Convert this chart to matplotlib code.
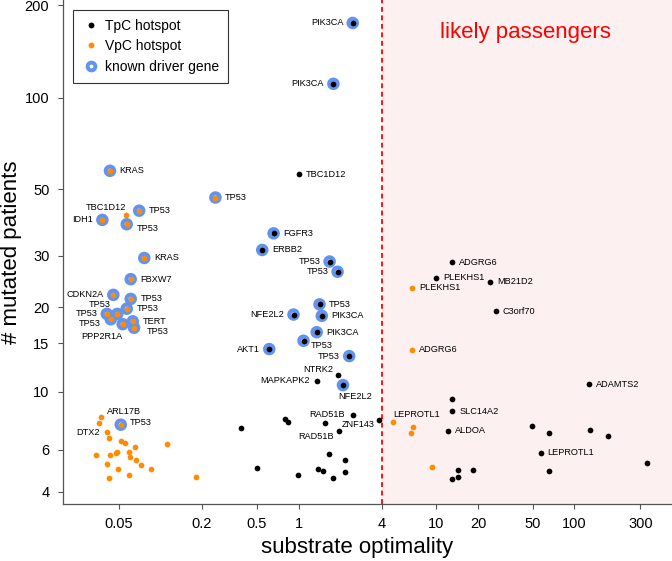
import numpy as np
import matplotlib
matplotlib.use("Agg")
import matplotlib.pyplot as plt
from matplotlib.lines import Line2D

plt.rcParams["font.family"] = ["Liberation Sans", "DejaVu Sans"]

# TpC hotspots (black): gene, substrate optimality, # mutated patients, known driver
tpc_gene = ["PIK3CA", "PIK3CA", "FGFR3", "ERBB2", "TP53", "TP53", "TP53", "NFE2L2",
            "PIK3CA", "PIK3CA", "TP53", "AKT1", "TP53", "NFE2L2",
            "TBC1D12", "NTRK2", "MAPKAPK2", "RAD51B", "ZNF143", "RAD51B",
            "ADGRG6", "PLEKHS1", "MB21D2", "C3orf70", "ADAMTS2", "SLC14A2", "ALDOA", "LEPROTL1"]
tpc_x = [2.47, 1.79, 0.66, 0.546, 1.68, 1.92, 1.42, 0.92,
         1.475, 1.355, 1.087, 0.614, 2.33, 2.10,
         1.0, 1.93, 1.355, 2.47, 3.85, 1.97,
         13.0, 10.0, 24.5, 27.0, 127, 13.0, 12.1, 56.9]
tpc_y = [175, 111, 35.7, 31.4, 28.7, 26.5, 20.5, 18.9,
         18.7, 16.4, 15.3, 14.3, 13.5, 10.6,
         56.1, 11.5, 11.0, 8.22, 7.87, 7.09,
         28.5, 25.3, 24.5, 19.4, 10.7, 8.47, 7.12, 5.84]
tpc_driver = [True] * 14 + [False] * 14

# unlabelled TpC hotspots
tpc_other_x = [0.383, 0.80, 0.844, 1.56, 1.655, 2.16, 0.498, 1.39, 1.50, 2.16, 0.995, 1.78,
               13.0, 49.5, 65.7, 129, 175, 335, 14.2, 14.2, 13.0, 18.4, 65.7]
tpc_other_y = [7.29, 7.94, 7.73, 7.62, 5.77, 5.47, 5.07, 4.99, 4.89, 4.88, 4.74, 4.57,
               9.42, 7.46, 7.01, 7.19, 6.83, 5.32, 4.96, 4.64, 4.53, 4.96, 4.92]

# VpC hotspots (orange)
vpc_gene = ["KRAS", "TP53", "TP53", "IDH1", "TP53", "KRAS", "FBXW7", "CDKN2A", "TP53",
            "TP53", "TP53", "TP53", "TP53", "TERT", "PPP2R1A", "TP53", "TP53",
            "TBC1D12", "ARL17B", "DTX2", "PLEKHS1", "ADGRG6", "LEPROTL1"]
vpc_x = [0.043, 0.25, 0.070, 0.0379, 0.0569, 0.0763, 0.0608, 0.0455, 0.0608,
         0.0569, 0.0486, 0.0408, 0.0436, 0.0629, 0.0532, 0.0643, 0.0515,
         0.0559, 0.0369, 0.0412, 6.68, 6.68, 4.82]
vpc_y = [57.6, 47.0, 42.5, 39.6, 38.3, 29.5, 25.0, 22.1, 21.4,
         19.8, 19.0, 19.0, 18.2, 17.9, 17.5, 17.0, 7.53,
         41.1, 8.04, 7.05, 23.4, 14.2, 7.69]
vpc_driver = [True] * 17 + [False] * 6

vpc_other_x = [0.0360, 0.0426, 0.052, 0.0556, 0.0657, 0.112, 0.0341, 0.0431, 0.0476, 0.0486,
               0.0588, 0.0601, 0.0665, 0.0412, 0.0726, 0.0492, 0.0853, 0.0421, 0.0594, 0.180,
               9.28, 6.72, 6.50]
vpc_other_y = [7.67, 6.68, 6.49, 6.37, 6.17, 6.33, 5.70, 5.70, 5.81, 5.85,
               5.89, 5.62, 5.44, 5.25, 5.18, 5.00, 4.99, 4.60, 4.74, 4.62,
               5.12, 7.36, 7.01]

x_ticks = [0.05, 0.2, 0.5, 1, 4, 10, 20, 50, 100, 300]
x_tick_labels = ["0.05", "0.2", "0.5", "1", "4", "10", "20", "50", "100", "300"]
y_ticks = [4, 6, 10, 15, 20, 30, 50, 100, 200]
threshold = 4

# label placement: "r" right, "l" left, or (ha, dx, dy) in points
tpc_place = ["l", "l", "r", "r", "l", "l", "r", "l",
             "r", "r", ("left", 5.5, -3.4), "l", "l", ("left", -3.4, -8.1),
             "r", ("right", -3, 4), "l", "l", ("right", -3, -3.3), ("right", -3.8, -3.5),
             "r", "r", "r", "r", "r", "r", "r", "r"]
vpc_place = ["r", "r", "r", "l", ("left", 7, -3), "r", "r", "l", "r",
             "r", ("right", -5, 7), "l", ("right", -7, -3), "r", ("right", 0, -9),
             ("left", 9, -2.5), ("left", 6.7, 1.7),
             ("right", 0, 5.5), ("left", 4.3, 4), "l", "r", "r", ("left", 0, 5.3)]

BLUE = "#6393EE"
ORANGE = "#FF8C00"
GREY = "#555555"


def fwd(v):
    return np.log10(np.asarray(v) + 1.5)


def inv(v):
    return 10 ** np.asarray(v) - 1.5


def add_labels(ax, genes, xs, ys, drivers, places):
    for g, x, y, d, p in zip(genes, xs, ys, drivers, places):
        if p == "r":
            ha, dx, dy = "left", (7 if d else 5), 0
        elif p == "l":
            ha, dx, dy = "right", (-6.7 if d else -5.3), 0
        else:
            ha, dx, dy = p
        ax.annotate(g, (x, y), xytext=(dx, dy), textcoords="offset points",
                    ha=ha, va="center", fontsize=6.6, zorder=5)


def main():
    fig = plt.figure(figsize=(6.72, 5.61), dpi=100)
    ax = fig.add_axes([62.7 / 672, 57 / 561, 1 - 62.7 / 672, 504 / 561])

    ax.set_xscale("log")
    ax.set_yscale("function", functions=(fwd, inv))
    ax.set_xlim(0.01955, 509)
    ax.set_ylim(3.52, 207.7)

    ax.axvspan(threshold, 1e4, color="#FDF0F0", zorder=0, lw=0)
    ax.axvline(threshold, color="red", lw=1.3, ls=(0, (2.7, 2.0)), zorder=1)

    # known driver rings
    dx_ = [x for x, d in zip(tpc_x, tpc_driver) if d] + [x for x, d in zip(vpc_x, vpc_driver) if d]
    dy_ = [y for y, d in zip(tpc_y, tpc_driver) if d] + [y for y, d in zip(vpc_y, vpc_driver) if d]
    ax.scatter(dx_, dy_, s=36, facecolors="none", edgecolors=BLUE, linewidths=3.0, zorder=2)

    ax.scatter(tpc_x + tpc_other_x, tpc_y + tpc_other_y, s=17, color="black", lw=0, zorder=3)
    ax.scatter(vpc_x + vpc_other_x, vpc_y + vpc_other_y, s=17, color=ORANGE, lw=0, zorder=3)

    add_labels(ax, tpc_gene, tpc_x, tpc_y, tpc_driver, tpc_place)
    add_labels(ax, vpc_gene, vpc_x, vpc_y, vpc_driver, vpc_place)

    ax.text(0.76, 0.9365, "likely passengers", color="red", fontsize=16,
            ha="center", va="center", transform=ax.transAxes)

    ax.set_xticks(x_ticks)
    ax.set_xticklabels(x_tick_labels)
    ax.set_yticks(y_ticks)
    ax.set_yticklabels([str(t) for t in y_ticks])
    ax.xaxis.set_minor_locator(matplotlib.ticker.NullLocator())
    ax.yaxis.set_minor_locator(matplotlib.ticker.NullLocator())
    ax.tick_params(axis="both", length=3.6, width=0.8, color=GREY, labelsize=10.5)
    ax.tick_params(axis="x", pad=5.5)
    ax.tick_params(axis="y", pad=6)

    for side in ["top", "right"]:
        ax.spines[side].set_visible(False)
    for side in ["left", "bottom"]:
        ax.spines[side].set_color(GREY)
        ax.spines[side].set_linewidth(0.9)

    ax.set_xlabel("substrate optimality", fontsize=16)
    ax.set_ylabel("# mutated patients", fontsize=16)
    ax.xaxis.set_label_coords(0.483, -0.066)
    ax.yaxis.set_label_coords(-0.066, 0.5)

    handles = [
        Line2D([], [], ls="none", marker="o", ms=4.2, mfc="black", mec="none"),
        Line2D([], [], ls="none", marker="o", ms=4.2, mfc=ORANGE, mec="none"),
        Line2D([], [], ls="none", marker="o", ms=5.6, mfc="white", mec=BLUE, mew=2.8),
    ]
    leg = ax.legend(handles, ["TpC hotspot", "VpC hotspot", "known driver gene"],
                    loc="upper left", bbox_to_anchor=(0.0164, 0.980), fontsize=10,
                    frameon=True, fancybox=False, framealpha=1, edgecolor="#333333",
                    borderpad=0.65, handlelength=1.35, handletextpad=0.35,
                    labelspacing=0.45, borderaxespad=0)
    leg.get_frame().set_linewidth(0.8)

    fig.savefig("out.png", dpi=100)
    plt.close(fig)


if __name__ == "__main__":
    main()
